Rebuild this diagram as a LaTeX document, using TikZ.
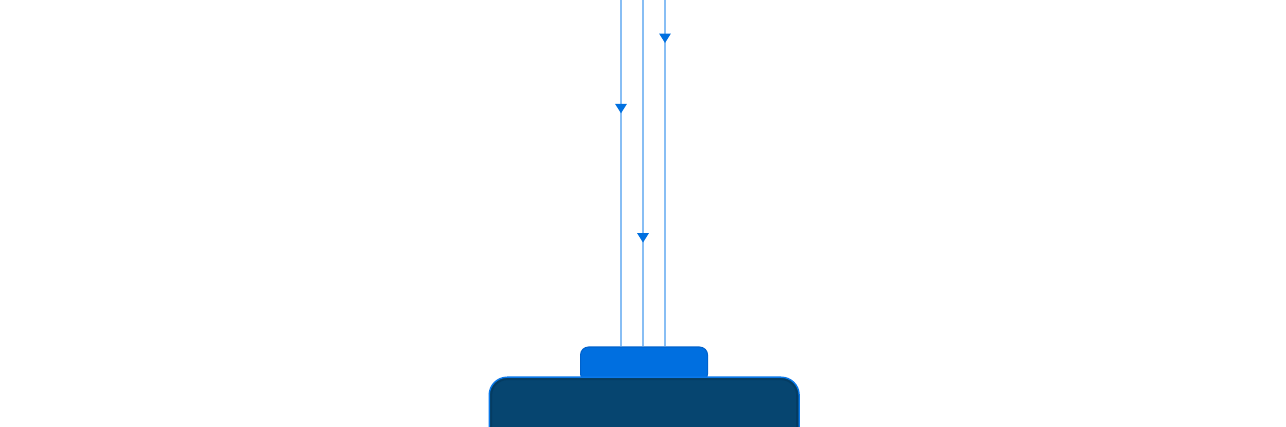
\documentclass[tikz,border=0pt]{standalone}
\usetikzlibrary{arrows.meta,decorations.markings}
\definecolor{wire}{HTML}{88BEF4}
\definecolor{tipblue}{HTML}{0070E0}
\definecolor{portfill}{HTML}{006FE0}
\definecolor{portedge}{HTML}{0062CC}
\definecolor{hostfill}{HTML}{064570}
\definecolor{hostedge}{HTML}{0A78EA}
\definecolor{hostinner}{HTML}{053C62}
\tikzset{
  wireline/.style={draw=wire, line width=1.1pt},
  tipat/.style={postaction={decorate}, decoration={markings,
      mark=at position #1 with {\arrow[tipblue]{Triangle[width=8.5pt,length=7pt]}}}},
  portbox/.style={draw=portedge, line width=0.8pt, fill=portfill, rounded corners=6pt,
      minimum width=95.25pt, minimum height=26pt, inner sep=0pt, anchor=north west},
  hostbox/.style={draw=hostedge, line width=1pt, fill=hostfill, rounded corners=13.5pt,
      minimum width=232.5pt, minimum height=70pt, inner sep=0pt, anchor=north west},
}
\begin{document}
\begin{tikzpicture}[x=0.75pt,y=-0.75pt]
\useasboundingbox (0,0) rectangle (1286,427);
\fill[white] (0,0) rectangle (1286,427);
\clip (0,0) rectangle (1286,427);
\node[portbox] (port) at (580,346.5) {};
\node[hostbox] (host) at (488.5,376.5) {};
\draw[hostinner, line width=1.2pt, rounded corners=12pt]
  ([shift={(2.8,2.8)}]host.north west) rectangle ([shift={(-2.8,40)}]host.south east);
\coordinate (t1) at (621,0);
\coordinate (t2) at (643,0);
\coordinate (t3) at (665,0);
\path[wireline, tipat=0.327] (t1) -- (t1 |- port.north);
\path[wireline, tipat=0.70] (t2) -- (t2 |- port.north);
\path[wireline, tipat=0.124] (t3) -- (t3 |- port.north);
\end{tikzpicture}
\end{document}
